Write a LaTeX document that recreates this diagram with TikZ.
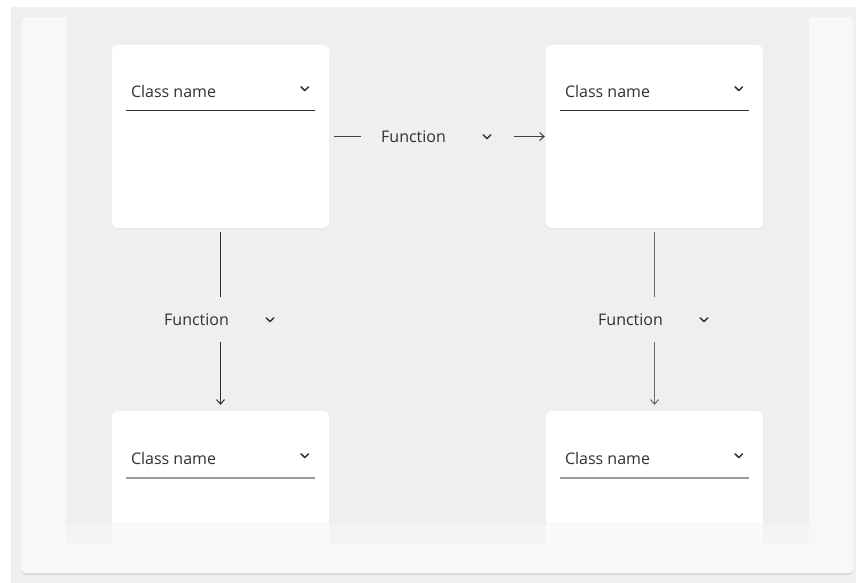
\documentclass[tikz,border=0pt]{standalone}
\usepackage{fontspec}
\setmainfont{Open Sans}
\usetikzlibrary{arrows.meta,calc,shadows}

\definecolor{pagegray}{HTML}{EFEFEF}
\definecolor{panelgray}{HTML}{F8F8F8}
\definecolor{fadegray}{HTML}{F4F4F4}
\definecolor{cardfade}{HTML}{FAFAFA}
\definecolor{ink}{HTML}{323130}
\definecolor{darkline}{HTML}{2E2E2E}
\definecolor{midline}{HTML}{404040}
\definecolor{softline}{HTML}{6A6A6A}
\definecolor{fieldline}{HTML}{9A9A9A}

\tikzset{
  card/.style={rectangle, rounded corners=6pt, fill=white, inner sep=0pt,
    minimum width=217pt, minimum height=183pt,
    drop shadow={opacity=0.07, shadow xshift=0pt, shadow yshift=-1.5pt}},
  lowcard/.style={card, minimum height=136pt},
  gapv/.style={rectangle, inner sep=0pt, minimum width=20pt, minimum height=45pt},
  gaph/.style={rectangle, inner sep=0pt, minimum width=152pt, minimum height=20pt},
  uitext/.style={inner sep=0pt, text=ink, font=\fontsize{16}{19}\selectfont},
  chevron/.style={draw=ink, line width=1.5pt, line cap=round, line join=round},
  uline/.style={draw=darkline, line width=1.1pt},
  ulinesoft/.style={draw=fieldline, line width=1.4pt},
  barb/.tip={Straight Barb[length=4.5pt,width=8pt,line width=1pt]},
}

\newcommand{\chevronat}[1]{\draw[chevron] ($#1+(-3.8,-2)$) -- ($#1+(0,1.8)$) -- ($#1+(3.8,-2)$);}

\begin{document}
\begin{tikzpicture}[x=1pt,y=-1pt]
\useasboundingbox (0,0) rectangle (856,583);

% page and panels
\fill[white] (0,0) rectangle (856,583);
\fill[pagegray] (11,7) rectangle (856,583);
\fill[black, opacity=0.08, rounded corners=4pt] (22,18) rectangle (853,575);
\fill[panelgray, rounded corners=4pt] (22,17) rectangle (853,573);
\fill[pagegray] (66,7) rectangle (809,543);
\fill[fadegray] (66,525) rectangle (809,543);

% class cards (the lower pair runs out at the bottom of the canvas)
\node[card] (tl) at (220.5,136.5) {};
\node[card] (tr) at (654.5,136.5) {};
\node[lowcard] (bl) at (220.5,479) {};
\node[lowcard] (br) at (654.5,479) {};

% lower cards fade out into the panel
\fill[cardfade] (bl.west |- 0,522) rectangle (bl.east |- 0,547.5);
\fill[cardfade] (br.west |- 0,522) rectangle (br.east |- 0,547.5);
\fill[panelgray] (100,547.5) rectangle (780,552);

% card headers: class name field with dropdown chevron
\foreach \c in {tl,tr} {
  \node[uitext, anchor=base west] (\c-name) at ($(\c.north west)+(19,52.3)$) {Class name};
  \draw[uline] ($(\c.north west)+(14,66)$) -- ++(189,0);
  \chevronat{(\c.north west)+(193,44)}
}
\foreach \c in {bl,br} {
  \node[uitext, anchor=base west] (\c-name) at ($(\c.north west)+(19,53.3)$) {Class name};
  \draw[ulinesoft] ($(\c.north west)+(14,67)$) -- ++(189,0);
  \chevronat{(\c.north west)+(193,45)}
}

% relation labels (gap nodes keep the connectors clear of the text)
\node[gaph] (fh) at (437.5,136.5) {};
\node[gapv] (fl) at (220.5,319.5) {};
\node[gapv] (fr) at (654.5,319.5) {};
\foreach \f in {fh,fl,fr} {
  \node[uitext, anchor=base west] (\f-text) at ($(\f)+(-56.5,5.8)$) {Function};
  \chevronat{(\f)+(49.5,0.3)}
}

% connectors
\draw[midline, line width=1.1pt, shorten <=5pt] (tl) -- (fh);
\draw[midline, line width=1.1pt, -{barb}, shorten >=1pt] (fh) -- (tr);
\draw[darkline, line width=1.7pt, shorten <=4pt] (tl) -- (fl);
\draw[darkline, line width=1.7pt, -{barb}, shorten >=6pt] (fl) -- (bl);
\draw[softline, line width=1.2pt, shorten <=4pt] (tr) -- (fr);
\draw[softline, line width=1.2pt, -{barb}, shorten >=6pt] (fr) -- (br);
\end{tikzpicture}
\end{document}
